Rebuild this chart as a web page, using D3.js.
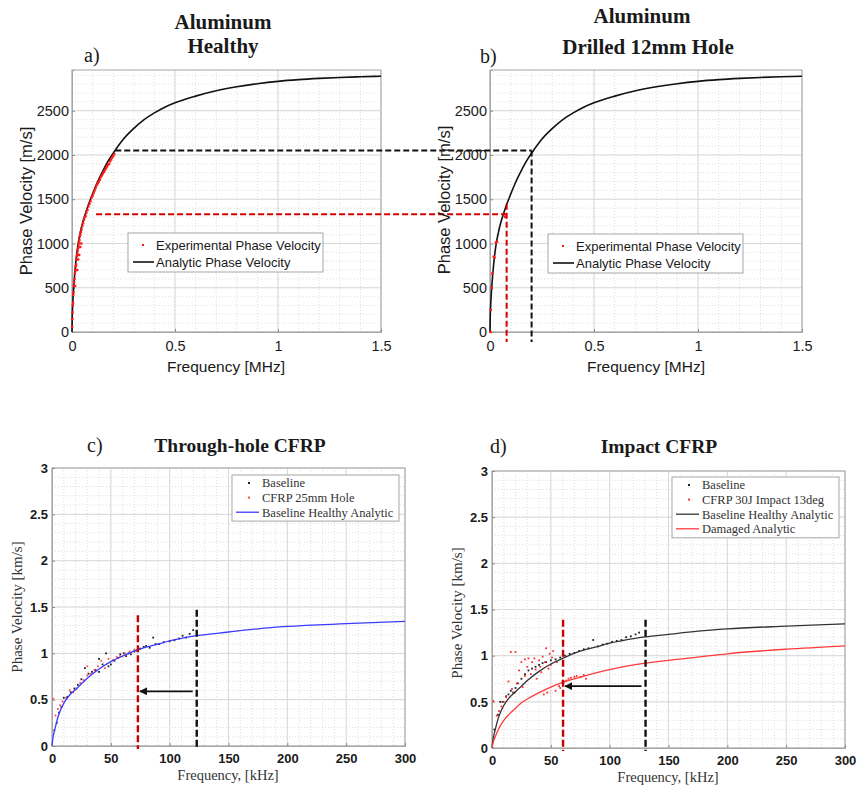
<!DOCTYPE html>
<html><head><meta charset="utf-8">
<script src="https://cdn.jsdelivr.net/npm/d3@7/dist/d3.min.js"></script>
<style>body{margin:0;background:#fff}svg{display:block}</style>
</head><body><svg id="chart" width="857" height="787"></svg>
<script>
// ---------------- DATA ----------------
// Aluminum analytic phase velocity (frequency MHz, velocity m/s)
const alFreq = [0, 0.001, 0.003, 0.006, 0.01, 0.015, 0.02, 0.03, 0.04, 0.05, 0.06, 0.08, 0.1, 0.125, 0.15, 0.175, 0.2, 0.25, 0.3, 0.35, 0.4, 0.45, 0.5, 0.6, 0.7, 0.8, 0.9, 1.0, 1.1, 1.2, 1.3, 1.4, 1.5];
const alVel  = [0, 160, 290, 420, 560, 700, 820, 1000, 1120, 1220, 1300, 1440, 1560, 1700, 1820, 1930, 2020, 2180, 2300, 2400, 2475, 2540, 2590, 2665, 2725, 2770, 2805, 2832, 2851, 2865, 2876, 2884, 2890];
// Experimental points, healthy aluminum
const alHealthyExpF = [0.001,0.002,0.003,0.004,0.005,0.006,0.007,0.008,0.01,0.012,0.014,0.015,0.016,0.018,0.02,0.022,0.024,0.025,0.026,0.028,0.03,0.03,0.032,0.034,0.035,0.036,0.038,0.04,0.04,0.043,0.045,0.046,0.05,0.054,0.058,0.062,0.066,0.07,0.075,0.08,0.085,0.09,0.095,0.1,0.105,0.11,0.115,0.12,0.125,0.13,0.135,0.14,0.145,0.15,0.155,0.16,0.165,0.17,0.175,0.18,0.185,0.19,0.195,0.2,0.205];
const alHealthyExpV = [60,150,220,300,330,420,450,520,560,600,660,520,700,740,760,820,860,700,880,920,950,820,990,1010,870,1040,1080,1100,960,1130,1000,1160,1200,1230,1270,1300,1310,1350,1380,1420,1450,1480,1520,1540,1570,1600,1630,1660,1680,1700,1720,1750,1770,1790,1810,1830,1850,1870,1890,1900,1930,1950,1970,1990,2010];
// Experimental points, drilled aluminum
const alDrilledExpF = [0.002,0.004,0.007,0.011,0.018,0.022,0.028,0.034,0.066,0.072];
const alDrilledExpV = [0,250,500,660,850,840,1010,1020,1330,1300];
// Picked velocities for the dashed guides
const alPickVel = [2050, 1330];           // black, red
const alHealthyPickF = [0.21, 0.117];     // start of guides in a)
const alDrilledPickF = [0.2, 0.08];       // vertical guides in b)
const alDrilledPickTop = [2050, 1450];

// CFRP analytic curves (frequency kHz, velocity km/s)
const cfFreq     = [0, 1, 2, 3, 5, 7, 10, 15, 20, 25, 30, 40, 50, 60, 73, 90, 100, 123, 150, 175, 200, 250, 300];
const cfHealthy  = [0, 0.1, 0.16, 0.21, 0.31, 0.38, 0.46, 0.55, 0.61, 0.67, 0.73, 0.83, 0.91, 0.97, 1.04, 1.1, 1.135, 1.19, 1.23, 1.265, 1.29, 1.32, 1.345];
const cfDamaged  = [0, 0.06, 0.1, 0.13, 0.19, 0.24, 0.3, 0.37, 0.43, 0.49, 0.53, 0.6, 0.66, 0.71, 0.76, 0.82, 0.85, 0.905, 0.95, 0.985, 1.02, 1.07, 1.107];
// c) Through-hole CFRP points
const thBaseF = [2,4,6,8,10,13,16,19,22,25,28,31,34,37,40,40,43,46,48,50,53,56,58,61,63,65,67,70,72,75,78,80,83,86,88,91,95,100,104,108,111,114,117,120];
const thBaseV = [0.17,0.25,0.36,0.42,0.52,0.53,0.58,0.62,0.66,0.72,0.84,0.78,0.8,0.82,0.8,0.94,0.88,1.0,0.86,0.88,0.92,0.95,0.99,1.0,0.97,1.0,0.99,1.02,1.03,1.05,1.07,1.08,1.06,1.17,1.1,1.1,1.12,1.13,1.14,1.16,1.19,1.17,1.21,1.25];
const thHoleF = [1,3,5,7,9,12,15,18,21,24,27,30,30,33,36,39,42,45,48,52,55,58,62,66,70];
const thHoleV = [0.51,0.33,0.4,0.44,0.48,0.52,0.6,0.58,0.62,0.68,0.71,0.86,0.76,0.78,0.82,0.86,0.92,0.84,0.94,0.93,0.96,0.97,1.0,1.02,1.04];
// d) Impact CFRP points
const imBaseF = [2,5,7,9,12,14,16,18,20,22,25,28,31,34,37,40,43,46,50,54,58,62,66,70,74,78,82,86,90,94,98,102,106,110,114,118,122,125];
const imBaseV = [0.2,0.36,0.5,0.5,0.56,0.58,0.62,0.6,0.65,0.7,0.75,0.8,0.84,0.86,0.88,0.9,0.92,0.93,0.95,0.96,0.98,1.0,1.02,1.03,1.05,1.07,1.08,1.17,1.1,1.12,1.13,1.15,1.16,1.17,1.2,1.21,1.23,1.25];
const imDamF = [1,4,6,8,10,12,14,16,20,17,19,21,23,25,26,28,28,30,31,33,34,36,37,38,40,41,42,43,44,45,46,47,48,49,50,51,52,54,55,57,58,60,63,65,67,70,72,75,78,80];
const imDamV = [0.51,0.35,0.4,0.45,0.5,0.55,0.72,1.04,1.04,0.64,0.6,0.7,0.84,0.93,0.66,0.96,0.78,0.88,0.97,0.8,0.93,0.97,0.85,0.75,0.95,0.88,0.82,0.99,0.58,0.93,1.08,0.6,0.86,1.02,0.9,0.98,1.05,0.62,0.93,0.67,0.65,0.72,0.73,0.75,0.76,0.77,0.78,0.77,0.79,0.75];
// Picked frequencies (kHz) for dashed guides
const thPickF = [123, 73];  // black, red
const imPickF = [130.5, 60.4];

// Tick labels
const alXTicks = [0, 0.5, 1, 1.5];
const alYTicks = [0, 500, 1000, 1500, 2000, 2500];
const cfXTicks = [0, 50, 100, 150, 200, 250, 300];
const cfYTicks = [0, 0.5, 1, 1.5, 2, 2.5, 3];

// ---------------- DRAWING ----------------
const svg = d3.select('#chart');
svg.append('rect').attr('width', 857).attr('height', 787).attr('fill', '#fff');
const SANS = 'Liberation Sans, Arial, sans-serif';
const SERIF = 'Liberation Serif, Times New Roman, serif';

function zip(a, b) { return a.map((v, i) => [v, b[i]]); }

function panel(o) {
  const x = d3.scaleLinear().domain(o.xDomain).range([o.left, o.right]);
  const y = d3.scaleLinear().domain(o.yDomain).range([o.bottom, o.top]);
  const g = svg.append('g');
  g.append('g').selectAll('line').data(d3.range(o.xDomain[0], o.xDomain[1] + 1e-9, o.xMinor)).join('line')
    .attr('x1', d => x(d)).attr('x2', d => x(d)).attr('y1', o.top).attr('y2', o.bottom)
    .attr('stroke', '#d6d6d6').attr('stroke-width', 0.8).attr('stroke-dasharray', '1,2');
  g.append('g').selectAll('line').data(d3.range(o.yDomain[0], o.yDomain[1] + 1e-9, o.yMinor)).join('line')
    .attr('y1', d => y(d)).attr('y2', d => y(d)).attr('x1', o.left).attr('x2', o.right)
    .attr('stroke', '#d6d6d6').attr('stroke-width', 0.8).attr('stroke-dasharray', '1,2');
  g.append('g').selectAll('line').data(o.xTicks).join('line')
    .attr('x1', d => x(d)).attr('x2', d => x(d)).attr('y1', o.top).attr('y2', o.bottom)
    .attr('stroke', '#d9d9d9').attr('stroke-width', 1);
  g.append('g').selectAll('line').data(o.yTicks).join('line')
    .attr('y1', d => y(d)).attr('y2', d => y(d)).attr('x1', o.left).attr('x2', o.right)
    .attr('stroke', '#d9d9d9').attr('stroke-width', 1);
  g.append('rect').attr('x', o.left).attr('y', o.top).attr('width', o.right - o.left).attr('height', o.bottom - o.top)
    .attr('fill', 'none').attr('stroke', '#a6a6a6').attr('stroke-width', 1);
  const xa = g.append('g').attr('transform', `translate(0,${o.bottom})`)
    .call(d3.axisBottom(x).tickValues(o.xTicks).tickFormat(d3.format('~g')).tickSize(-3).tickPadding(o.xPad));
  const ya = g.append('g').attr('transform', `translate(${o.left},0)`)
    .call(d3.axisLeft(y).tickValues(o.yTicks).tickFormat(d3.format('~g')).tickSize(-3).tickPadding(o.yPad));
  [xa, ya].forEach(a => {
    a.select('.domain').attr('stroke', '#a6a6a6');
    a.selectAll('.tick line').attr('stroke', '#8c8c8c');
    a.selectAll('text').attr('font-family', SANS).attr('font-size', o.tickSize)
      .attr('font-weight', o.tickBold ? 'bold' : 'normal').attr('fill', '#1a1a1a');
  });
  return { x, y, g };
}

function text(t, x, y, opts) {
  const el = svg.append('text').attr('x', x).attr('y', y).text(t)
    .attr('font-family', opts.family || SANS).attr('font-size', opts.size)
    .attr('font-weight', opts.weight || 'normal').attr('fill', opts.fill || '#1a1a1a')
    .attr('text-anchor', opts.anchor || 'middle');
  if (opts.rotate) el.attr('transform', `rotate(-90,${x},${y})`);
  return el;
}

const line = (sx, sy) => d3.line().x(d => sx(d[0])).y(d => sy(d[1])).curve(d3.curveMonotoneX);

// ===== Panel a / b =====
const A = panel({ left: 72, right: 381, top: 70, bottom: 332, xDomain: [0, 1.5], yDomain: [0, 2960],
  xTicks: alXTicks, yTicks: alYTicks, xMinor: 0.1, yMinor: 100, xPad: 9, yPad: 3, tickSize: 14.5 });
const B = panel({ left: 490, right: 802, top: 70, bottom: 332, xDomain: [0, 1.5], yDomain: [0, 2960],
  xTicks: alXTicks, yTicks: alYTicks, xMinor: 0.1, yMinor: 100, xPad: 9, yPad: 3, tickSize: 14.5 });

[A, B].forEach(P => {
  P.g.append('path').datum(zip(alFreq, alVel)).attr('d', line(P.x, P.y))
    .attr('fill', 'none').attr('stroke', '#111').attr('stroke-width', 1.6);
});
A.g.append('g').selectAll('rect').data(zip(alHealthyExpF, alHealthyExpV)).join('rect')
  .attr('x', d => A.x(d[0]) - 1.2).attr('y', d => A.y(d[1]) - 1.2).attr('width', 2.4).attr('height', 2.4).attr('fill', '#ff1a1a');
B.g.append('g').selectAll('rect').data(zip(alDrilledExpF, alDrilledExpV)).join('rect')
  .attr('x', d => B.x(d[0]) - 1.2).attr('y', d => B.y(d[1]) - 1.2).attr('width', 2.4).attr('height', 2.4).attr('fill', '#ff1a1a');

const guideCol = ['#111', '#d40000'];
alPickVel.forEach((v, i) => {
  svg.append('line').attr('x1', A.x(alHealthyPickF[i])).attr('x2', B.x(alDrilledPickF[i]))
    .attr('y1', A.y(v)).attr('y2', A.y(v))
    .attr('stroke', guideCol[i]).attr('stroke-width', 2).attr('stroke-dasharray', '6,3');
  svg.append('line').attr('x1', B.x(alDrilledPickF[i])).attr('x2', B.x(alDrilledPickF[i]))
    .attr('y1', B.y(alDrilledPickTop[i])).attr('y2', B.y(0) + 10)
    .attr('stroke', guideCol[i]).attr('stroke-width', 2).attr('stroke-dasharray', '6,3');
});

function alLegend(x0, y0) {
  svg.append('rect').attr('x', x0).attr('y', y0).attr('width', 195).attr('height', 39)
    .attr('fill', '#fff').attr('stroke', '#a6a6a6').attr('stroke-width', 1);
  svg.append('rect').attr('x', x0 + 14).attr('y', y0 + 11).attr('width', 2).attr('height', 2).attr('fill', '#ff1a1a');
  text('Experimental Phase Velocity', x0 + 28, y0 + 17, { size: 13, anchor: 'start' });
  svg.append('line').attr('x1', x0 + 5).attr('x2', x0 + 26).attr('y1', y0 + 29).attr('y2', y0 + 29)
    .attr('stroke', '#111').attr('stroke-width', 1.6);
  text('Analytic Phase Velocity', x0 + 28, y0 + 34, { size: 13, anchor: 'start' });
}
alLegend(128, 233);
alLegend(548, 234);

text('Aluminum', 223, 29, { family: SERIF, size: 21, weight: 'bold' });
text('Healthy', 223, 53, { family: SERIF, size: 21, weight: 'bold' });
text('a)', 84, 62, { family: SERIF, size: 20, anchor: 'start' });
text('Aluminum', 642, 23, { family: SERIF, size: 21, weight: 'bold' });
text('Drilled 12mm Hole', 648, 54, { family: SERIF, size: 21, weight: 'bold' });
text('b)', 480, 63, { family: SERIF, size: 20, anchor: 'start' });
text('Phase Velocity [m/s]', 32, 201, { size: 16.5, rotate: true });
text('Frequency [MHz]', 226, 372, { size: 15.5 });
text('Phase Velocity [m/s]', 450, 200, { size: 16.5, rotate: true });
text('Frequency [MHz]', 646, 372, { size: 15.5 });

// ===== Panel c / d =====
const C = panel({ left: 52, right: 405, top: 468, bottom: 746, xDomain: [0, 300], yDomain: [0, 3],
  xTicks: cfXTicks, yTicks: cfYTicks, xMinor: 10, yMinor: 0.1, xPad: 8, yPad: 4, tickSize: 13, tickBold: true });
const D = panel({ left: 492, right: 845, top: 471, bottom: 748, xDomain: [0, 300], yDomain: [0, 3],
  xTicks: cfXTicks, yTicks: cfYTicks, xMinor: 10, yMinor: 0.1, xPad: 8, yPad: 4, tickSize: 13, tickBold: true });

function dots(P, F, V, col) {
  P.g.append('g').selectAll('rect').data(zip(F, V)).join('rect')
    .attr('x', d => P.x(d[0]) - 0.9).attr('y', d => P.y(d[1]) - 0.9).attr('width', 1.8).attr('height', 1.8).attr('fill', col);
}
dots(C, thBaseF, thBaseV, '#222');
dots(C, thHoleF, thHoleV, '#ff4d4d');
C.g.append('path').datum(zip(cfFreq, cfHealthy)).attr('d', line(C.x, C.y))
  .attr('fill', 'none').attr('stroke', '#3b3bff').attr('stroke-width', 1.3);

dots(D, imBaseF, imBaseV, '#222');
dots(D, imDamF, imDamV, '#ff3030');
D.g.append('path').datum(zip(cfFreq, cfHealthy)).attr('d', line(D.x, D.y))
  .attr('fill', 'none').attr('stroke', '#333').attr('stroke-width', 1.3);
D.g.append('path').datum(zip(cfFreq, cfDamaged)).attr('d', line(D.x, D.y))
  .attr('fill', 'none').attr('stroke', '#ff3b3b').attr('stroke-width', 1.3);

svg.append('defs').append('marker').attr('id', 'ah').attr('viewBox', '0 0 10 10').attr('refX', 9).attr('refY', 5)
  .attr('markerWidth', 5).attr('markerHeight', 5).attr('orient', 'auto')
  .append('path').attr('d', 'M0,0L10,5L0,10Z').attr('fill', '#111');
function guides(P, picks, topV, arrowV) {
  const cols = ['#111', '#c40000'];
  picks.forEach((f, i) => {
    P.g.append('line').attr('x1', P.x(f)).attr('x2', P.x(f)).attr('y1', P.y(topV[i])).attr('y2', P.y(0) + 3)
      .attr('stroke', cols[i]).attr('stroke-width', 2.4).attr('stroke-dasharray', '7,3');
  });
  P.g.append('line').attr('x1', P.x(picks[0]) - 4).attr('x2', P.x(picks[1]) + 2)
    .attr('y1', P.y(arrowV)).attr('y2', P.y(arrowV))
    .attr('stroke', '#111').attr('stroke-width', 1.6).attr('marker-end', 'url(#ah)');
}
guides(C, thPickF, [1.47, 1.41], 0.59);
guides(D, imPickF, [1.39, 1.39], 0.67);

function cfLegend(x0, y0, w, entries) {
  const h = entries.length * 14.7 + 2;
  svg.append('rect').attr('x', x0).attr('y', y0).attr('width', w).attr('height', h)
    .attr('fill', '#fff').attr('stroke', '#a6a6a6').attr('stroke-width', 1);
  entries.forEach((e, i) => {
    const cy = y0 + 8 + i * 14.6;
    if (e.type === 'dot') svg.append('rect').attr('x', x0 + 16).attr('y', cy - 1).attr('width', 2).attr('height', 2).attr('fill', e.col);
    else svg.append('line').attr('x1', x0 + 4).attr('x2', x0 + 27).attr('y1', cy).attr('y2', cy).attr('stroke', e.col).attr('stroke-width', 1.3);
    text(e.label, x0 + 30, cy + 4.3, { family: SERIF, size: 12.5, anchor: 'start', fill: '#333' });
  });
}
cfLegend(232, 475, 167, [
  { type: 'dot', col: '#222', label: 'Baseline' },
  { type: 'dot', col: '#ff4d4d', label: 'CFRP 25mm Hole' },
  { type: 'line', col: '#3b3bff', label: 'Baseline Healthy Analytic' }]);
cfLegend(672, 477, 167, [
  { type: 'dot', col: '#222', label: 'Baseline' },
  { type: 'dot', col: '#ff3030', label: 'CFRP 30J Impact 13deg' },
  { type: 'line', col: '#333', label: 'Baseline Healthy Analytic' },
  { type: 'line', col: '#ff3b3b', label: 'Damaged Analytic' }]);

text('Through-hole CFRP', 240, 452, { family: SERIF, size: 19.5, weight: 'bold' });
text('c)', 87, 452, { family: SERIF, size: 20, anchor: 'start' });
text('Impact CFRP', 659, 453, { family: SERIF, size: 19.5, weight: 'bold' });
text('d)', 490, 453, { family: SERIF, size: 20, anchor: 'start' });
text('Phase Velocity [km/s]', 22, 607, { family: SERIF, size: 15, rotate: true, fill: '#333' });
text('Frequency, [kHz]', 228, 780, { family: SERIF, size: 14.5, fill: '#333' });
text('Phase Velocity [km/s]', 462, 613, { family: SERIF, size: 15, rotate: true, fill: '#333' });
text('Frequency, [kHz]', 668, 782, { family: SERIF, size: 14.5, fill: '#333' });
</script></body></html>
